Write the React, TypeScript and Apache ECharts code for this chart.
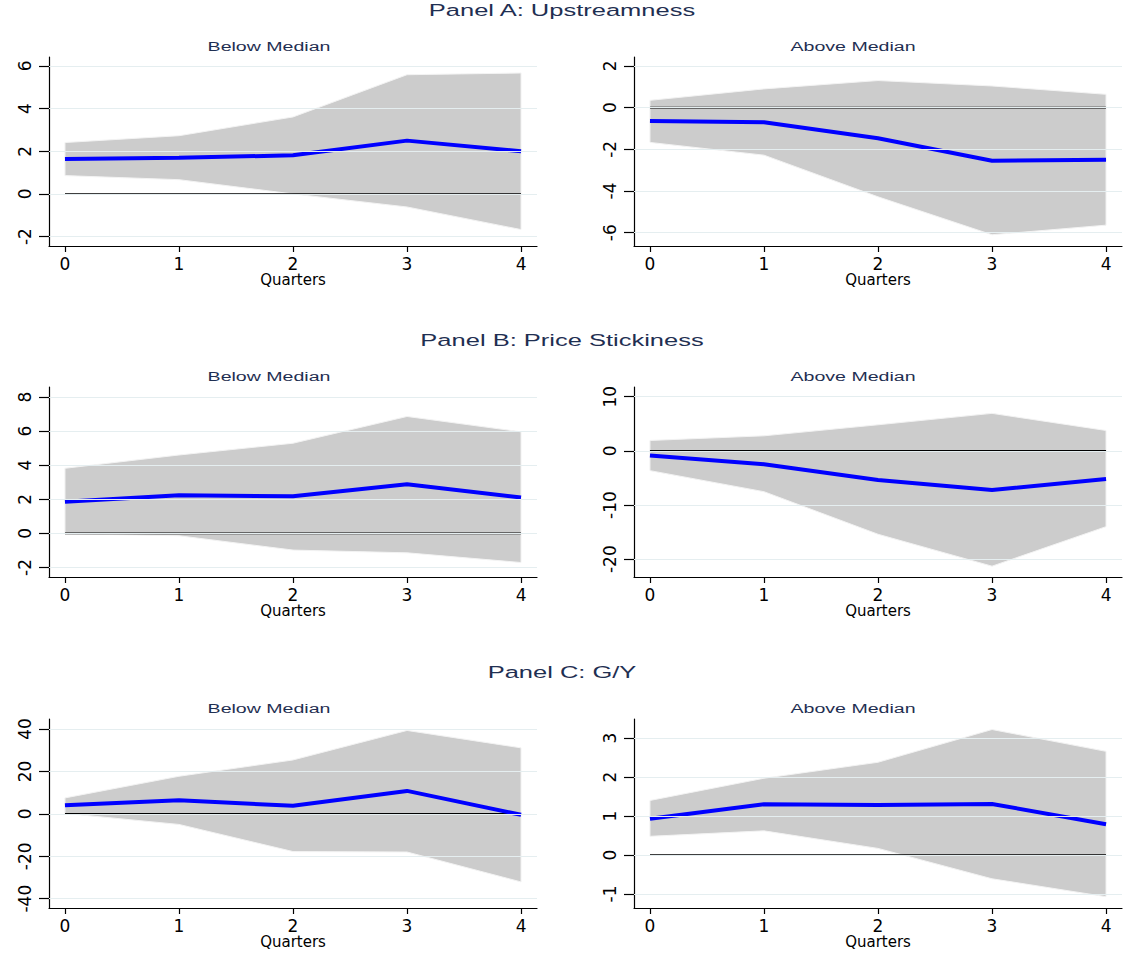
import React, { useEffect, useRef } from "react";
import * as echarts from "echarts";

// ---------- data ----------
const quarters = [0, 1, 2, 3, 4];

const panelTitles = ["Panel A: Upstreamness", "Panel B: Price Stickiness", "Panel C: G/Y"];
const subTitles = ["Below Median", "Above Median"];
const xAxisTitle = "Quarters";

// Panel A: Upstreamness
const upBelowIrf = [1.64, 1.7, 1.81, 2.5, 2.0];
const upBelowLo = [0.86, 0.67, 0.0, -0.61, -1.67];
const upBelowHi = [2.41, 2.73, 3.61, 5.59, 5.67];
const upAboveIrf = [-0.64, -0.7, -1.47, -2.55, -2.5];
const upAboveLo = [-1.67, -2.28, -4.28, -6.1, -5.64];
const upAboveHi = [0.35, 0.9, 1.3, 1.04, 0.64];

// Panel B: Price Stickiness
const psBelowIrf = [1.86, 2.24, 2.18, 2.88, 2.1];
const psBelowLo = [-0.02, -0.14, -0.98, -1.14, -1.71];
const psBelowHi = [3.82, 4.6, 5.29, 6.86, 5.96];
const psAboveIrf = [-0.87, -2.47, -5.38, -7.24, -5.19];
const psAboveLo = [-3.65, -7.54, -15.4, -21.3, -14.0];
const psAboveHi = [1.92, 2.78, 4.82, 6.93, 3.77];

// Panel C: G/Y
const gyBelowIrf = [4.07, 6.4, 3.76, 10.8, -0.47];
const gyBelowLo = [0.2, -5.0, -17.8, -18.0, -32.1];
const gyBelowHi = [7.5, 17.7, 25.4, 39.3, 31.1];
const gyAboveIrf = [0.93, 1.3, 1.28, 1.31, 0.79];
const gyAboveLo = [0.48, 0.62, 0.17, -0.61, -1.07];
const gyAboveHi = [1.4, 1.97, 2.38, 3.22, 2.66];

// y-axis tick labels and ranges
const upBelowTicks = [-2, 0, 2, 4, 6];
const upAboveTicks = [-6, -4, -2, 0, 2];
const psBelowTicks = [-2, 0, 2, 4, 6, 8];
const psAboveTicks = [-20, -10, 0, 10];
const gyBelowTicks = [-40, -20, 0, 20, 40];
const gyAboveTicks = [-1, 0, 1, 2, 3];

const upBelowRange = [-2.44, 6.42];
const upAboveRange = [-6.64, 2.43];
const psBelowRange = [-2.56, 8.59];
const psAboveRange = [-23.3, 11.8];
const gyBelowRange = [-44.4, 44.7];
const gyAboveRange = [-1.36, 3.49];

const xRange = [-0.14, 4.14];

// ---------- layout / style ----------
const colLeft = [49, 634];
const plotWidth = 488;
const rowTop = [57, 387, 719];
const rowHeight = [189, 190, 189];
const subTitleX = [269, 853];
const titleColor = "#1f2f52";
const font = "Liberation Sans, Arial, Helvetica, sans-serif";
const tickFont = "DejaVu Sans, Liberation Sans, sans-serif";

export default function App() {
  const ref = useRef<HTMLDivElement>(null);

  useEffect(() => {
    document.body.style.margin = "0";
    const chart = echarts.init(ref.current!, null, { renderer: "svg" });

    const panels = [
      { irf: upBelowIrf, lo: upBelowLo, hi: upBelowHi, ticks: upBelowTicks, range: upBelowRange },
      { irf: upAboveIrf, lo: upAboveLo, hi: upAboveHi, ticks: upAboveTicks, range: upAboveRange },
      { irf: psBelowIrf, lo: psBelowLo, hi: psBelowHi, ticks: psBelowTicks, range: psBelowRange },
      { irf: psAboveIrf, lo: psAboveLo, hi: psAboveHi, ticks: psAboveTicks, range: psAboveRange },
      { irf: gyBelowIrf, lo: gyBelowLo, hi: gyBelowHi, ticks: gyBelowTicks, range: gyBelowRange },
      { irf: gyAboveIrf, lo: gyAboveLo, hi: gyAboveHi, ticks: gyAboveTicks, range: gyAboveRange },
    ];

    const grid: any[] = [];
    const xAxis: any[] = [];
    const yAxis: any[] = [];
    const series: any[] = [];

    panels.forEach((p, i) => {
      const row = Math.floor(i / 2);
      const col = i % 2;
      grid.push({
        left: colLeft[col],
        top: rowTop[row],
        width: plotWidth,
        height: rowHeight[row],
        containLabel: false,
      });
      xAxis.push({
        type: "value",
        gridIndex: i,
        min: xRange[0],
        max: xRange[1],
        name: xAxisTitle,
        nameLocation: "middle",
        nameGap: 24,
        nameTextStyle: { fontFamily: tickFont, fontSize: 15, color: "#000" },
        axisLine: { show: true, onZero: false, lineStyle: { color: "#000", width: 1.2 } },
        axisTick: { show: true, customValues: quarters, length: 6, lineStyle: { color: "#000", width: 1.2 } },
        axisLabel: {
          customValues: quarters,
          margin: 9,
          fontFamily: tickFont,
          fontSize: 17,
          color: "#000",
        },
        splitLine: { show: false },
      });
      yAxis.push({
        type: "value",
        gridIndex: i,
        min: p.range[0],
        max: p.range[1],
        axisLine: { show: true, onZero: false, lineStyle: { color: "#000", width: 1.2 } },
        axisTick: { show: true, customValues: p.ticks, length: 10, lineStyle: { color: "#000", width: 1.2 } },
        axisLabel: {
          customValues: p.ticks,
          rotate: 90,
          margin: 16,
          fontFamily: tickFont,
          fontSize: 17,
          color: "#000",
        },
        splitLine: { show: false },
      });

      // grid lines
      series.push({
        type: "line",
        xAxisIndex: i,
        yAxisIndex: i,
        data: [[quarters[0], p.ticks[0]]],
        symbol: "none",
        lineStyle: { opacity: 0 },
        silent: true,
        z: 1,
        markLine: {
          silent: true,
          symbol: "none",
          label: { show: false },
          lineStyle: { color: "#e5eef0", width: 1, type: "solid" },
          data: p.ticks.map((v) => ({ yAxis: v })),
        },
      });

      // confidence band
      const lo = p.lo;
      const hi = p.hi;
      series.push({
        type: "custom",
        xAxisIndex: i,
        yAxisIndex: i,
        silent: true,
        z: 2,
        data: quarters.map((q, k) => [q, lo[k], hi[k]]),
        encode: { x: 0, y: [1, 2] },
        renderItem: (params: any, api: any) => {
          if (params.dataIndex !== 0) return null;
          const upper = quarters.map((q, k) => api.coord([q, hi[k]]));
          const lower = quarters.map((q, k) => api.coord([q, lo[k]])).reverse();
          return {
            type: "polygon",
            shape: { points: upper.concat(lower) },
            style: { fill: "#cccccc", stroke: "#f3f3f3", lineWidth: 1 },
          };
        },
      });

      // zero line
      series.push({
        type: "line",
        xAxisIndex: i,
        yAxisIndex: i,
        data: quarters.map((q) => [q, 0]),
        symbol: "none",
        silent: true,
        lineStyle: { color: "#000", width: 1.6 },
        z: 3,
      });

      // impulse response
      series.push({
        type: "line",
        xAxisIndex: i,
        yAxisIndex: i,
        data: quarters.map((q, k) => [q, p.irf[k]]),
        symbol: "none",
        silent: true,
        lineStyle: { color: "#0000ff", width: 4 },
        z: 4,
      });
    });

    const graphic: any[] = [];
    panelTitles.forEach((t, r) => {
      graphic.push({
        type: "text",
        x: 562,
        y: rowTop[r] - 47,
        scaleX: 1.5,
        style: {
          text: t,
          fontFamily: font,
          fontSize: 17,
          fill: titleColor,
          textAlign: "center",
          textVerticalAlign: "middle",
        },
      });
      subTitles.forEach((s, c) => {
        graphic.push({
          type: "text",
          x: subTitleX[c],
          y: rowTop[r] - 10.5,
          scaleX: 1.45,
          style: {
            text: s,
            fontFamily: font,
            fontSize: 13.5,
            fill: titleColor,
            textAlign: "center",
            textVerticalAlign: "middle",
          },
        });
      });
    });

    chart.setOption({
      animation: false,
      backgroundColor: "#ffffff",
      grid,
      xAxis,
      yAxis,
      series,
      graphic,
    });

    return () => chart.dispose();
  }, []);

  return <div ref={ref} style={{ width: 1123, height: 953 }} />;
}
